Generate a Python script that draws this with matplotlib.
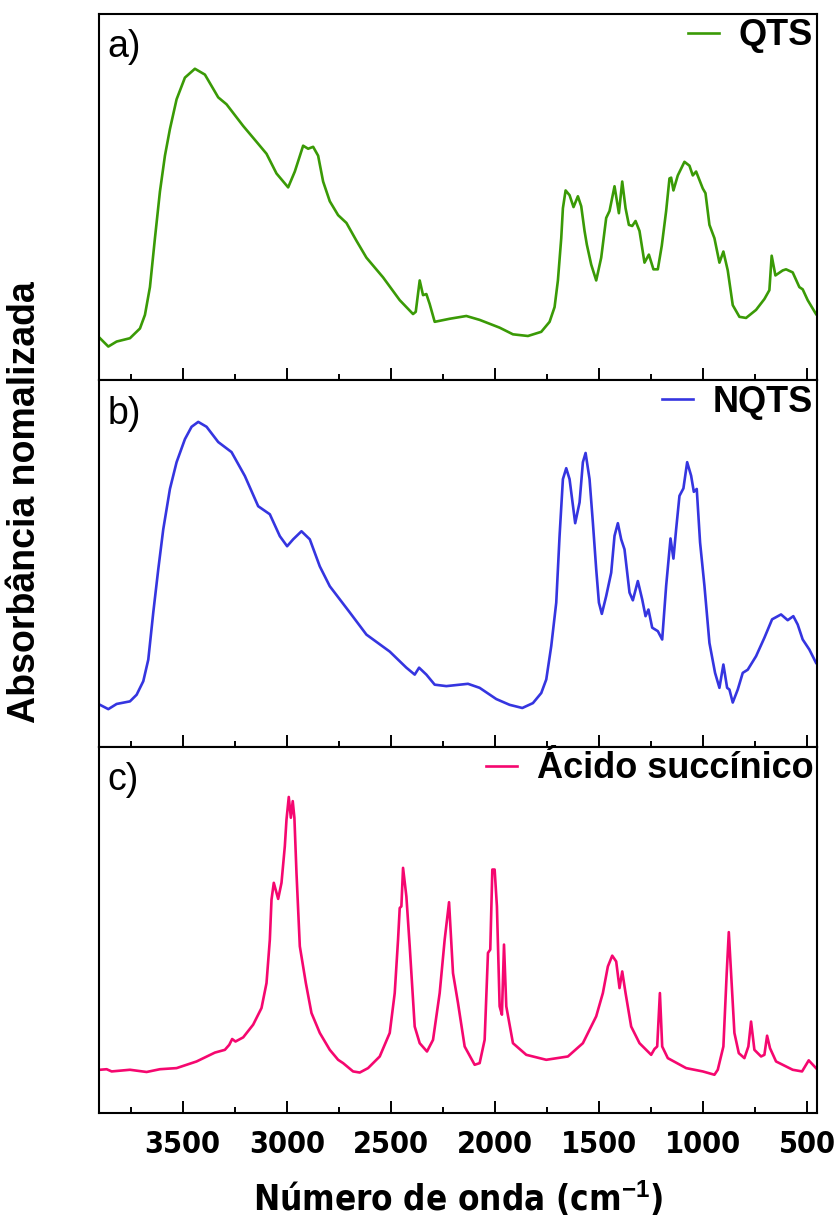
import matplotlib
matplotlib.use("Agg")
import matplotlib.pyplot as plt
from matplotlib import font_manager
from matplotlib.ticker import MultipleLocator

# espectros FTIR digitalizados (numero de onda em cm-1, absorbancia normalizada)
qts_wn = [3897, 3857, 3817, 3753, 3705, 3681, 3657, 3633, 3609, 3585, 3561, 3529, 3489, 3441,
          3393, 3329, 3289, 3209, 3145, 3097, 3049, 2993, 2961, 2921, 2897, 2873, 2849, 2825,
          2793, 2753, 2713, 2665, 2617, 2537, 2457, 2393, 2380, 2361, 2345, 2329, 2313, 2289,
          2217, 2137, 2073, 1977, 1913, 1841, 1777, 1737, 1713, 1697, 1681, 1673, 1660, 1649,
          1641, 1622, 1601, 1585, 1569, 1558, 1537, 1513, 1489, 1465, 1449, 1425, 1404, 1388,
          1372, 1356, 1340, 1324, 1305, 1281, 1260, 1238, 1217, 1198, 1177, 1161, 1153, 1142,
          1121, 1089, 1065, 1049, 1033, 1001, 988, 969, 945, 921, 902, 881, 857, 825, 793, 745,
          705, 681, 670, 652, 617, 601, 569, 537, 521, 497, 457]
qts_abs = [0.03, 0.0, 0.018, 0.03, 0.065, 0.114, 0.214, 0.39, 0.558, 0.687, 0.783, 0.89, 0.968, 1.0,
           0.979, 0.897, 0.872, 0.794, 0.737, 0.694, 0.623, 0.573, 0.63, 0.723, 0.712, 0.719, 0.687, 0.594,
           0.523, 0.473, 0.445, 0.381, 0.32, 0.249, 0.167, 0.117, 0.125, 0.238, 0.185, 0.189, 0.153, 0.089,
           0.1, 0.11, 0.096, 0.068, 0.044, 0.038, 0.053, 0.089, 0.142, 0.238, 0.39, 0.498, 0.562, 0.552,
           0.545, 0.502, 0.541, 0.505, 0.416, 0.367, 0.295, 0.238, 0.32, 0.463, 0.488, 0.577, 0.48, 0.594,
           0.498, 0.438, 0.434, 0.452, 0.416, 0.302, 0.331, 0.278, 0.278, 0.363, 0.488, 0.605, 0.608, 0.562,
           0.616, 0.665, 0.651, 0.616, 0.63, 0.569, 0.552, 0.438, 0.39, 0.302, 0.342, 0.274, 0.149, 0.107, 0.103, 0.132,
           0.171, 0.203, 0.327, 0.256, 0.274, 0.278, 0.267, 0.214, 0.206, 0.167, 0.117]

nqts_wn = [3897, 3857, 3817, 3753, 3721, 3689, 3665, 3641, 3617, 3593, 3561, 3529, 3489, 3457,
           3425, 3385, 3329, 3265, 3201, 3137, 3081, 3033, 2998, 2969, 2929, 2889, 2841, 2793,
           2697, 2617, 2505, 2425, 2385, 2364, 2329, 2289, 2233, 2129, 2073, 1993, 1929, 1868,
           1817, 1777, 1753, 1729, 1705, 1689, 1673, 1657, 1641, 1614, 1593, 1577, 1564, 1545,
           1529, 1513, 1500, 1486, 1465, 1441, 1425, 1409, 1393, 1377, 1353, 1337, 1313, 1292,
           1276, 1262, 1244, 1217, 1196, 1177, 1156, 1142, 1129, 1113, 1094, 1076, 1057, 1044,
           1030, 1014, 993, 969, 942, 921, 902, 884, 873, 857, 833, 809, 785, 745, 705, 668,
           625, 593, 566, 545, 521, 489, 457]
nqts_abs = [0.017, 0.002, 0.02, 0.029, 0.052, 0.099, 0.174, 0.338, 0.488, 0.627, 0.767, 0.86, 0.94, 0.983,
            1.0, 0.983, 0.93, 0.895, 0.812, 0.707, 0.679, 0.603, 0.568, 0.592, 0.62, 0.592, 0.498, 0.429,
            0.338, 0.261, 0.202, 0.146, 0.122, 0.146, 0.122, 0.087, 0.082, 0.09, 0.076, 0.037, 0.017, 0.006,
            0.023, 0.058, 0.105, 0.221, 0.372, 0.604, 0.801, 0.839, 0.801, 0.648, 0.72, 0.86, 0.892, 0.801,
            0.65, 0.488, 0.372, 0.333, 0.395, 0.476, 0.604, 0.648, 0.592, 0.557, 0.407, 0.38, 0.447, 0.383,
            0.325, 0.348, 0.285, 0.273, 0.244, 0.43, 0.595, 0.525, 0.627, 0.743, 0.769, 0.86, 0.813, 0.757,
            0.767, 0.581, 0.43, 0.232, 0.128, 0.076, 0.157, 0.076, 0.07, 0.025, 0.07, 0.128, 0.139, 0.186, 0.25, 0.314,
            0.331, 0.311, 0.325, 0.296, 0.244, 0.209, 0.163]

suc_wn = [3897, 3865, 3841, 3753, 3673, 3609, 3529, 3433, 3345, 3297, 3276, 3262, 3246, 3209,
          3161, 3121, 3097, 3081, 3073, 3062, 3041, 3025, 3009, 3001, 2990, 2980, 2971, 2963,
          2953, 2937, 2908, 2881, 2841, 2793, 2753, 2729, 2681, 2649, 2609, 2553, 2505, 2481,
          2465, 2457, 2449, 2441, 2425, 2409, 2385, 2361, 2326, 2297, 2265, 2241, 2220, 2201,
          2177, 2145, 2097, 2073, 2049, 2033, 2022, 2012, 2001, 1990, 1977, 1966, 1956, 1945,
          1913, 1849, 1753, 1649, 1577, 1513, 1481, 1457, 1436, 1417, 1401, 1388, 1372, 1345,
          1305, 1249, 1233, 1220, 1207, 1196, 1169, 1081, 1001, 945, 929, 902, 886, 876, 865,
          849, 828, 801, 782, 769, 753, 721, 705, 692, 678, 649, 569, 524, 492, 457]
suc_abs = [0.012, 0.014, 0.006, 0.012, 0.004, 0.014, 0.018, 0.042, 0.074, 0.084, 0.102, 0.123, 0.114, 0.129,
           0.175, 0.235, 0.325, 0.482, 0.626, 0.687, 0.629, 0.687, 0.819, 0.915, 0.997, 0.922, 0.982, 0.922,
           0.723, 0.458, 0.325, 0.217, 0.145, 0.084, 0.048, 0.036, 0.006, 0.002, 0.018, 0.06, 0.145, 0.289,
           0.482, 0.596, 0.602, 0.741, 0.638, 0.458, 0.168, 0.108, 0.078, 0.12, 0.289, 0.482, 0.617, 0.361,
           0.253, 0.096, 0.03, 0.036, 0.12, 0.434, 0.446, 0.735, 0.735, 0.602, 0.241, 0.211, 0.464, 0.241,
           0.108, 0.066, 0.048, 0.06, 0.108, 0.205, 0.289, 0.385, 0.424, 0.403, 0.307, 0.367, 0.289, 0.168,
           0.108, 0.066, 0.087, 0.096, 0.289, 0.096, 0.054, 0.018, 0.006, -0.006, 0.012, 0.096, 0.361, 0.509, 0.361,
           0.145, 0.072, 0.054, 0.096, 0.186, 0.084, 0.06, 0.066, 0.135, 0.09, 0.042, 0.012, 0.006, 0.046, 0.018]

series = [
    (qts_wn, qts_abs, "QTS", "#3a9a06", "a)", (-0.122, 1.197)),
    (nqts_wn, nqts_abs, "NQTS", "#3535e0", "b)", (-0.129, 1.144)),
    (suc_wn, suc_abs, "Ácido succínico", "#f5076f", "c)", (-0.145, 1.178)),
]

plt.rcParams['font.family'] = ['Liberation Sans', 'DejaVu Sans']
plt.rcParams['mathtext.fontset'] = 'custom'
plt.rcParams['mathtext.rm'] = 'Liberation Sans:bold'
plt.rcParams['mathtext.default'] = 'rm'


def has_font(**kw):
    # procura uma fonte estreita (Arial Narrow like)
    try:
        path = font_manager.findfont(font_manager.FontProperties(**kw), fallback_to_default=False)
    except Exception:
        return False
    return 'narrow' in path.lower() or 'condensed' in path.lower()


if has_font(family='Liberation Sans Narrow', weight='bold'):
    tick_font = dict(family='Liberation Sans Narrow', size=26)
    xlab_font = dict(family='Liberation Sans Narrow', size=32)
elif has_font(family='DejaVu Sans', stretch='condensed', weight='bold'):
    tick_font = dict(family='DejaVu Sans', stretch='condensed', size=22)
    xlab_font = dict(family='DejaVu Sans', stretch='condensed', size=25)
else:
    tick_font = dict(family='Liberation Sans', size=22)
    xlab_font = dict(family='Liberation Sans', size=26)

fig, axes = plt.subplots(3, 1, figsize=(8.35, 12.2), dpi=100, sharex=True)
fig.subplots_adjust(left=0.119, right=0.979, top=0.9885, bottom=0.0875, hspace=0)

for ax, (wn, ab, name, color, tag, ylim) in zip(axes, series):
    ax.plot(wn, ab, color=color, lw=1.9, label=name)
    ax.set_xlim(3900, 450)
    ax.set_ylim(*ylim)
    ax.set_yticks([])
    ax.xaxis.set_major_locator(MultipleLocator(500))
    ax.xaxis.set_minor_locator(MultipleLocator(250))
    ax.tick_params(axis='x', which='major', direction='in', length=8.6, width=1.4, pad=12)
    ax.tick_params(axis='x', which='minor', direction='in', length=4.3, width=1.4)
    for sp in ax.spines.values():
        sp.set_linewidth(1.5)
    ax.text(0.011, 0.882, tag, transform=ax.transAxes, fontsize=27, va='baseline', ha='left')
    ax.legend(loc='upper right', frameon=False, handlelength=0.85, handletextpad=0.55,
              borderpad=0.0, borderaxespad=0.12, prop={'weight': 'bold', 'size': 26})

for lbl in axes[-1].get_xticklabels():
    lbl.set_family(tick_font['family'])
    lbl.set_fontsize(tick_font['size'])
    lbl.set_fontweight('bold')
    if 'stretch' in tick_font:
        lbl.set_fontstretch(tick_font['stretch'])

xlab = axes[-1].set_xlabel("Número de onda (cm$^{-1}$)", fontweight='bold', labelpad=14, **xlab_font)
fig.text(0.03, 1 - 502 / 1220, "Absorbância nomalizada", rotation=90, fontsize=27,
         fontweight='bold', ha='center', va='center')

fig.savefig("out.png", dpi=100)
